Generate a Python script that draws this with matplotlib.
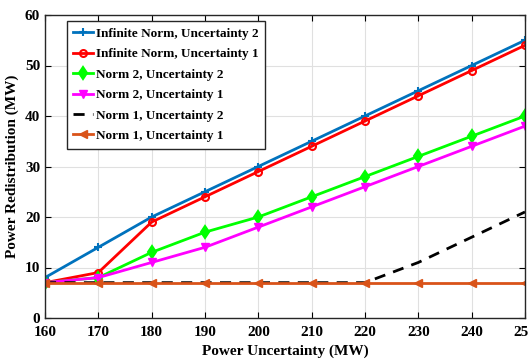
import matplotlib
matplotlib.use('Agg')
import matplotlib.pyplot as plt

plt.rcParams['font.family'] = ['Liberation Serif', 'DejaVu Serif']
plt.rcParams['font.weight'] = 'bold'

x = [160, 170, 180, 190, 200, 210, 220, 230, 240, 250]
inf_u2 = [8, 14, 20, 25, 30, 35, 40, 45, 50, 55]
inf_u1 = [7, 9, 19, 24, 29, 34, 39, 44, 49, 54]
n2_u2 = [7, 8, 13, 17, 20, 24, 28, 32, 36, 40]
n2_u1 = [7, 8, 11, 14, 18, 22, 26, 30, 34, 38]
n1_u2 = [7, 7, 7, 7, 7, 7, 7, 11, 16, 21]
n1_u1 = [7, 7, 7, 7, 7, 7, 7, 7, 7, 7]

fig = plt.figure(figsize=(5.28, 3.6), dpi=100)
ax = fig.add_axes([45 / 528, 1 - 318 / 360, 480 / 528, 303 / 360])

ax.plot(x, inf_u2, color='#0072BD', marker='+', ms=6, mew=1.5, lw=2,
        label='Infinite Norm, Uncertainty 2')
ax.plot(x, inf_u1, color='#FF0000', marker='o', ms=5, mfc='none', mew=1.5, lw=2,
        label='Infinite Norm, Uncertainty 1')
ax.plot(x, n2_u2, color='#00FF00', marker='d', ms=6, mew=1.5, lw=2,
        label='Norm 2, Uncertainty 2')
ax.plot(x, n2_u1, color='#FF00FF', marker='v', ms=6, lw=2,
        label='Norm 2, Uncertainty 1')
ax.plot(x, n1_u2, color='black', ls=(0, (4, 3)), lw=2,
        label='Norm 1, Uncertainty 2')
ax.plot(x, n1_u1, color='#D95319', marker='<', ms=6, lw=2,
        label='Norm 1, Uncertainty 1')

ax.set_xlim(160, 250)
ax.set_ylim(0, 60)
ax.set_xticks(x)
ax.set_yticks(range(0, 61, 10))
ax.grid(True, color='#e0e0e0', lw=0.8)
ax.tick_params(direction='in', top=True, right=True, labelsize=11, length=4)
ax.tick_params(axis='x', pad=6)
for s in ax.spines.values():
    s.set_linewidth(1)
    s.set_color('#262626')

ax.set_xlabel('Power Uncertainty (MW)', fontsize=11, fontweight='bold', labelpad=4)
ax.set_ylabel('Power Redistribution (MW)', fontsize=11, fontweight='bold', labelpad=4)

leg = ax.legend(loc='upper left', bbox_to_anchor=(0.045, 0.98),
                prop={'weight': 'bold', 'size': 9.5}, fancybox=False,
                edgecolor='#262626', framealpha=1, handlelength=1.5,
                handletextpad=0.2, borderpad=0.5, labelspacing=0.62,
                borderaxespad=0)
leg.get_frame().set_linewidth(1)

fig.savefig('out.png', dpi=100)
